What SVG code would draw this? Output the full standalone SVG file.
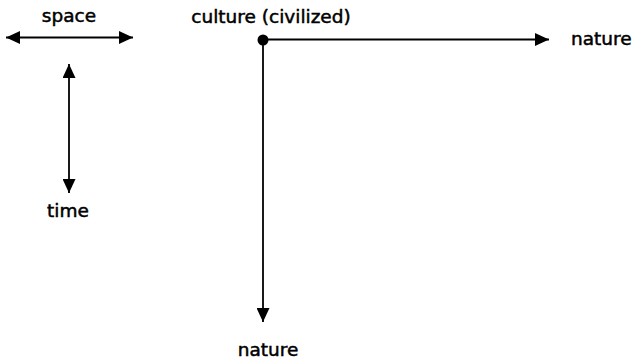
<svg xmlns="http://www.w3.org/2000/svg" width="635" height="361" viewBox="0 0 635 361">
  <style>
    .lbl { font-family: "DejaVu Sans", "Liberation Sans", sans-serif; font-size: 18.5px; fill: #000; stroke: #000; stroke-width: 0.5; }
    .ln { stroke: #000; stroke-width: 1.8; fill: none; }
  </style>
  <defs>
    <marker id="ah" viewBox="0 0 14 13" refX="14" refY="6.5" markerWidth="14" markerHeight="13" markerUnits="userSpaceOnUse" orient="auto-start-reverse">
      <path d="M0,0 L14,6.5 L0,13 z" fill="#000"/>
    </marker>
  </defs>
  <rect width="635" height="361" fill="#fff"/>
  <g id="connectors">
    <line class="ln" x1="6" y1="37.5" x2="133" y2="37.5" marker-start="url(#ah)" marker-end="url(#ah)"/>
    <line class="ln" x1="69" y1="64" x2="69" y2="193" marker-start="url(#ah)" marker-end="url(#ah)"/>
    <line class="ln" x1="263" y1="39.5" x2="549" y2="39.5" marker-end="url(#ah)"/>
    <line class="ln" x1="263" y1="39.5" x2="263" y2="322" marker-end="url(#ah)"/>
  </g>
  <g id="space"><text class="lbl" x="69" y="22" text-anchor="middle">space</text></g>
  <g id="time"><text class="lbl" x="68" y="217" text-anchor="middle">time</text></g>
  <g id="culture">
    <circle cx="263" cy="40" r="5.5" fill="#000"/>
    <text class="lbl" x="271" y="23" text-anchor="middle">culture (civilized)</text>
  </g>
  <g id="nature-right"><text class="lbl" x="571" y="45">nature</text></g>
  <g id="nature-bottom"><text class="lbl" x="268" y="356" text-anchor="middle">nature</text></g>
</svg>
